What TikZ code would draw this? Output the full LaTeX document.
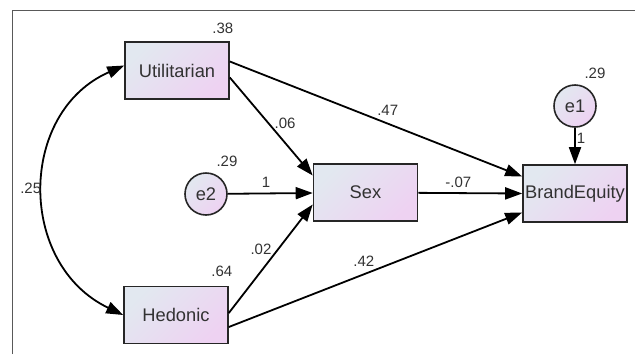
\documentclass[tikz,border=0pt]{standalone}
\usepackage{fontspec}
\setmainfont{Liberation Sans}
\usetikzlibrary{arrows.meta}
\definecolor{boxleft}{RGB}{226,232,240}
\definecolor{boxright}{RGB}{238,210,242}
\definecolor{numgray}{RGB}{50,50,50}
\begin{document}
\begin{tikzpicture}[x=1pt,y=-1pt,
  var/.style={draw=black!85,line width=1.6pt,top color=boxleft,bottom color=boxright,shading angle=45,
    minimum width=104pt,minimum height=57pt,inner sep=0pt,text=numgray,font=\fontsize{18.3}{20}\selectfont},
  err/.style={circle,draw=black!85,line width=1.6pt,top color=boxleft,bottom color=boxright,shading angle=45,
    minimum size=42pt,inner sep=0pt,text=numgray,font=\fontsize{18.3}{20}\selectfont},
  num/.style={text=numgray,inner sep=1pt,font=\fontsize{15}{16}\selectfont},
  path/.style={line width=1.8pt,-{Triangle[length=17pt,width=12pt]}}]

\useasboundingbox (0,0) rectangle (635,354);
\draw[black!65,line width=1pt] (12,354) -- (12,10) -- (636,10);

%% observed variables
\node[var] (util) at (177,70.5) {Utilitarian};
\node[var] (hed) at (176,315) {Hedonic};
\node[var] (sex) at (365.5,192.5) {Sex};
\node[var] (brand) at (575,193.5) {BrandEquity};

%% errors
\node[err] (e2) at (206,194) {e2};
\node[err] (e1) at (575,106) {e1};

%% variances
\node[num] (uvar) at ([xshift=-7pt,yshift=13pt]util.north east) {.38};
\node[num] (hvar) at ([xshift=-7pt,yshift=14pt]hed.north east) {.64};
\node[num] (e2var) at ([xshift=21pt,yshift=33pt]e2.center) {.29};
\node[num] (e1var) at ([xshift=20pt,yshift=33pt]e1.center) {.29};

%% paths
\draw[path] ([yshift=9pt]util.east) -- ([yshift=17pt]brand.west) node[num,pos=.54,above=6pt] {.47};
\draw[path] ([yshift=-7pt]util.east) -- ([yshift=17pt]sex.west) node[num,pos=.47,right=4pt] {.06};
\draw[path] (e2) -- (sex) node[num,pos=.45,above=4pt] {1};
\draw[path] ([yshift=2pt]hed.east) -- ([yshift=-12pt]sex.west) node[num,pos=.59,left=5pt] {.02};
\draw[path] ([yshift=-12pt]hed.east) -- ([yshift=-19pt]brand.west) node[num,pos=.46,above=6pt] {.42};
\draw[path] (sex) -- (brand.west) node[num,pos=.385,above=4pt] {-.07};
\draw[path] (e1) -- (brand) node[num,pos=.3,right=0pt] {1};

%% covariance
\draw[line width=1.8pt,{Triangle[length=17pt,width=12pt]}-{Triangle[length=17pt,width=12pt]}]
  ([yshift=5pt]util.west) .. controls (18,112) and (17,264) .. (hed.west)
  node[num,pos=.5,left=1pt] {.25};

\end{tikzpicture}
\end{document}
